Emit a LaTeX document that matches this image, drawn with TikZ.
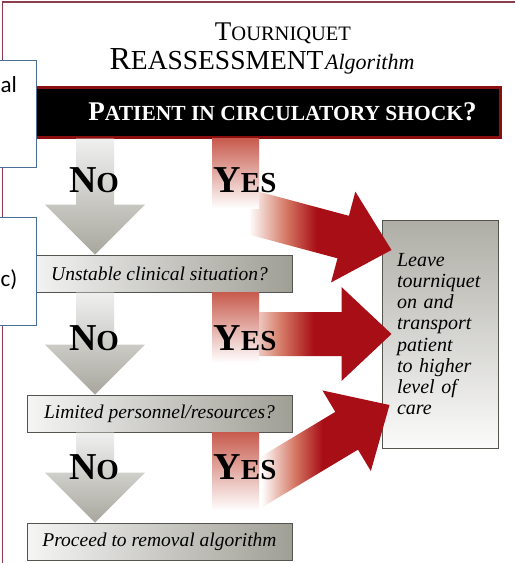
\documentclass[tikz,border=0pt]{standalone}
\usepackage{fontspec}
\setmainfont{Liberation Serif}
\newfontfamily\notefont{Carlito}
\usetikzlibrary{calc}

\definecolor{framered}{RGB}{140,60,75}
\definecolor{barred}{RGB}{140,15,15}
\definecolor{arrowred}{RGB}{168,14,22}
\definecolor{salmonred}{RGB}{212,120,100}
\definecolor{stubred}{RGB}{200,92,78}
\definecolor{nogray}{RGB}{168,167,158}
\definecolor{boxgray}{RGB}{160,159,150}
\definecolor{boxedge}{RGB}{85,85,80}
\definecolor{noteblue}{RGB}{75,110,150}

\pgfdeclarehorizontalshading{redfade}{100bp}{color(0bp)=(white); color(33bp)=(white); color(44bp)=(salmonred); color(53bp)=(arrowred); color(100bp)=(arrowred)}

% caps word: big size, small size, first letter, rest
\newcommand{\capword}[4]{{\fontsize{#1}{#1}\selectfont #3}{\fontsize{#2}{#2}\selectfont #4}}
% gray block arrow: shaft top, tip
\newcommand{\noarrow}[2]{%
  \shade[top color=gray!12, bottom color=nogray]
    ($(#1)+(-19,0)$) -- ($(#1)+(19,0)$) -- ($(#2)+(19,-50)$) -- ($(#2)+(50,-50)$)
    -- (#2) -- ($(#2)+(-50,-50)$) -- ($(#2)+(-19,-50)$) -- cycle;}
% red block arrow: tip, angle, length
\newcommand{\yesarrow}[3]{%
  \shade[shading=redfade, shift={(#1)}, rotate=#2]
    (0,0) -- (-50,47) -- (-50,22) -- (-#3,22) -- (-#3,-22) -- (-50,-22) -- (-50,-47) -- cycle;}
% red stub under a question
\newcommand{\yesstub}[2]{%
  \shade[top color=stubred, bottom color=white]
    ($(#1)+(-23.5,0)$) rectangle ($(#2)+(23.5,0)$);}

\begin{document}
\begin{tikzpicture}[x=1pt, y=-1pt,
  bar/.style={fill=black, draw=barred, line width=3pt, minimum width=465pt,
    minimum height=50pt, text=white, font=\bfseries},
  qbox/.style={draw=boxedge, line width=1pt, left color=gray!8, right color=boxgray,
    minimum width=265pt, minimum height=37pt, inner sep=0pt,
    font=\itshape\fontsize{19.5}{22}\selectfont},
  carebox/.style={draw=boxedge, line width=1pt, top color=boxgray!85, bottom color=gray!3,
    minimum width=116pt, minimum height=228pt, text width=86pt, inner xsep=15pt,
    align=left, font=\itshape\fontsize{20}{21.2}\selectfont},
  lbl/.style={font=\bfseries, inner sep=0pt},
  callout/.style={draw=noteblue, fill=white, line width=1pt, inner sep=0pt},
  notetxt/.style={font=\notefont\fontsize{23}{23}\selectfont, inner sep=0pt},
  node distance=151pt]
\useasboundingbox (0,0) rectangle (515,563);
\clip (0,0) rectangle (515,563);
\fill[white] (0,0) rectangle (515,563);
\draw[framered, line width=1.5pt] (2.5,563) -- (2.5,2) -- (515,2);

\node (title) at (283,33) {\capword{27}{20.5}{T}{OURNIQUET}};
\node (subtitle) at (262,61) {\capword{32}{27.5}{R}{EASSESSMENT}\,%
  {\itshape\fontsize{22}{22}\selectfont Algorithm}};

\node (shock) [bar] at (267.5,112) {\hspace*{30pt}\capword{27}{21.5}{P}{ATIENT IN CIRCULATORY SHOCK}{\fontsize{27}{27}\selectfont ?}};
\node (unstable) [qbox] at (159.5,273.5) {Unstable clinical situation?};
\node (limited) [qbox] at (159.5,413.5) {Limited personnel/resources?};
\node (proceed) [qbox] at (159.5,541.5) {Proceed to removal algorithm};
\node (care) [carebox] at (440,334) {Leave\\ tourniquet\\ on and\\ transport\\ patient\\ to higher\\ level of\\ care};

\coordinate (nocol) at (95,0);
\coordinate (yescol) at (235.5,0);

\noarrow{shock.south -| nocol}{unstable.north -| nocol}
\noarrow{unstable.south -| nocol}{limited.north -| nocol}
\noarrow{limited.south -| nocol}{proceed.north -| nocol}

\coordinate (tip1) at ($(care.west)+(10,-84)$);
\coordinate (tip2) at ($(care.west)+(10,0)$);
\coordinate (tip3) at ($(care.west)+(8,71)$);
\yesarrow{tip1}{-15}{170}
\yesarrow{tip2}{0}{177}
\yesarrow{tip3}{31}{165}
\yesstub{shock.south -| yescol}{$(shock.south -| yescol)+(0,70)$}
\yesstub{unstable.south -| yescol}{$(unstable.south -| yescol)+(0,70)$}
\yesstub{limited.south -| yescol}{$(limited.south -| yescol)+(0,78)$}

\node (no1) [lbl] at (94,180) {\capword{38}{29}{N}{O}};
\node (yes1) [lbl, right of=no1] {\capword{38}{29}{Y}{ES}};
\node (no2) [lbl] at (94,338) {\capword{38}{29}{N}{O}};
\node (yes2) [lbl, right of=no2] {\capword{38}{29}{Y}{ES}};
\node (no3) [lbl] at (94,467) {\capword{38}{29}{N}{O}};
\node (yes3) [lbl, right of=no3] {\capword{38}{29}{Y}{ES}};

\node (note1) [callout, minimum width=40pt, minimum height=107pt] at (16,113.5) {};
\node (note1txt) [notetxt, anchor=base west] at (0.5,92) {al};
\node (note2) [callout, minimum width=40pt, minimum height=108pt] at (16,271) {};
\node (note2txt) [notetxt, anchor=base west] at (0.5,286) {c)};
\end{tikzpicture}
\end{document}
